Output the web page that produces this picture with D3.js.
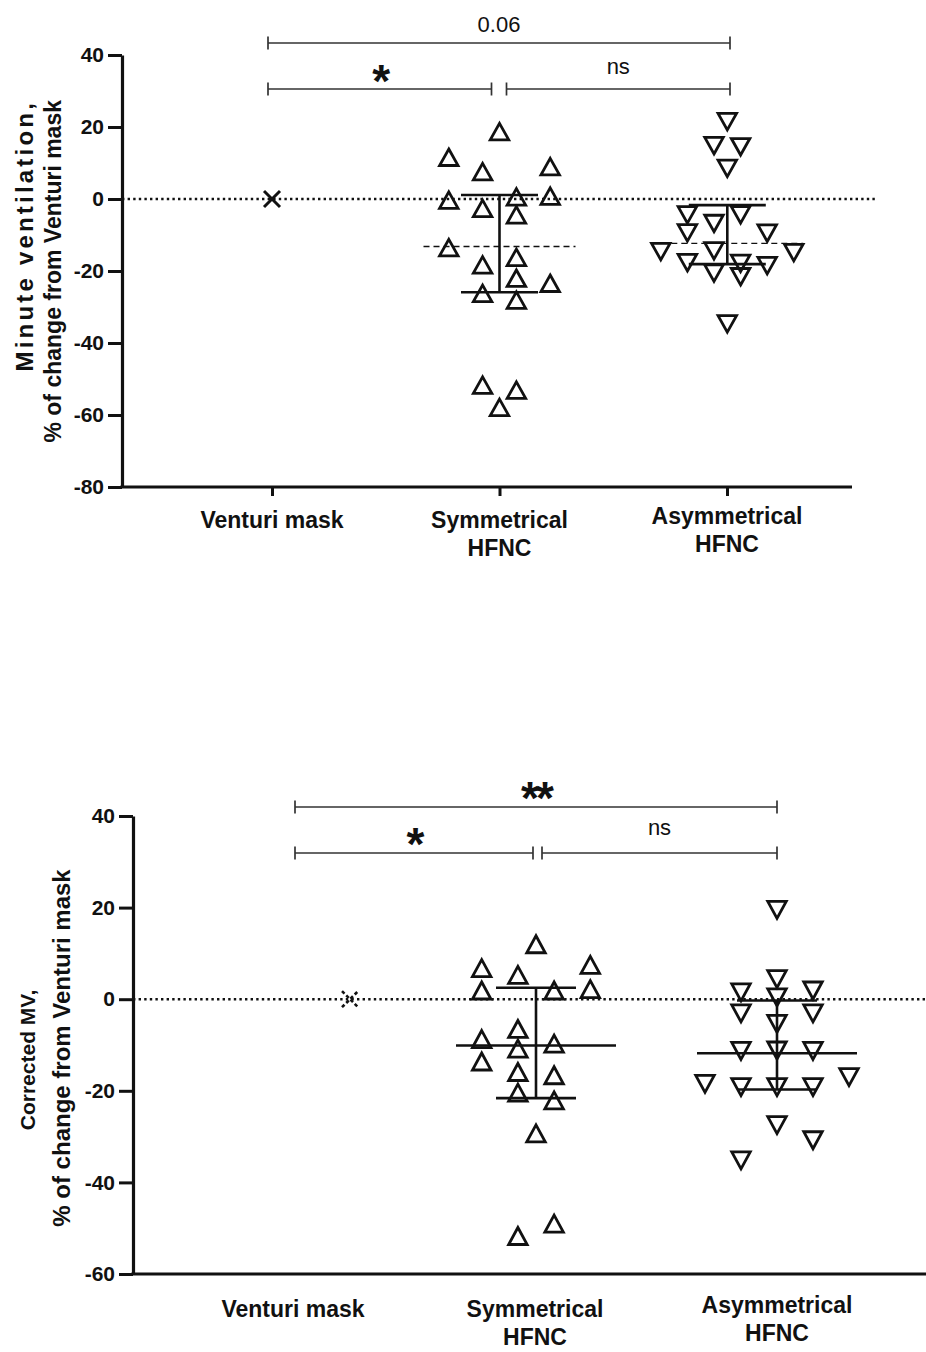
<!DOCTYPE html>
<html><head><meta charset="utf-8">
<script src="https://cdn.jsdelivr.net/npm/d3@7"></script>
<style>
body{margin:0;background:#fff}
svg{display:block}
text{font-family:"Liberation Sans",Arial,Helvetica,sans-serif;fill:#111}
</style>
</head><body>
<svg id="c" width="926" height="1352"></svg>
<script>
// ---------- DATA ----------
const categories = ["Venturi mask", "Symmetrical HFNC", "Asymmetrical HFNC"];
const categoryLines = [["Venturi mask"], ["Symmetrical", "HFNC"], ["Asymmetrical", "HFNC"]];

const yTicksTop = [40, 20, 0, -20, -40, -60, -80];
const yTicksBottom = [40, 20, 0, -20, -40, -60];

// Panel A: minute ventilation, % change from Venturi mask
const mvVenturi = [0];
const mvSym = [18.7, 11.6, 7.6, 9.0, -0.3, 0.6, 0.8, -2.6, -4.4, -13.5, -16.2, -18.3, -22.0, -23.4, -26.2, -28.1, -51.7, -53.1, -57.9];
const mvSymSlot = [0, -3, -1, 3, -3, 1, 3, -1, 1, -3, 1, -1, 1, 3, -1, 1, -1, 1, 0];
const mvAsym = [21.5, 14.8, 14.5, 8.5, -4.4, -6.8, -4.4, -9.4, -9.5, -14.6, -14.4, -14.9, -17.7, -17.9, -18.5, -20.6, -21.6, -34.7];
const mvAsymSlot = [0, -1, 1, 0, -3, -1, 1, -3, 3, -5, -1, 5, -3, 1, 3, -1, 1, 0];
const mvSymStats = {center: -13.2, upper: 1.1, lower: -25.9};
const mvAsymStats = {center: -12.3, upper: -1.7, lower: -18.1};
const mvBrackets = [
  {from: 0, to: 2, label: "0.06", level: 1},
  {from: 0, to: 1, label: "*", level: 0},
  {from: 1, to: 2, label: "ns", level: 0}
];
const mvTitle = ["Minute ventilation,", "% of change from Venturi mask"];

// Panel B: corrected MV, % change from Venturi mask
const cmvVenturi = [0];
const cmvSym = [12.0, 6.8, 5.3, 7.5, 1.9, 1.9, 2.2, -6.5, -8.7, -10.8, -9.7, -13.6, -15.9, -16.6, -20.4, -22.1, -29.3, -49.0, -51.7];
const cmvSymSlot = [0, -3, -1, 3, -3, 1, 3, -1, -3, -1, 1, -3, -1, 1, -1, 1, 0, 1, -1];
const cmvAsym = [19.5, 4.4, 1.5, 1.9, 0.4, -3.1, -3.1, -5.4, -11.3, -11.2, -11.3, -18.5, -19.2, -19.2, -19.2, -17.0, -27.5, -30.8, -35.2];
const cmvAsymSlot = [0, 0, -2, 2, 0, -2, 2, 0, -2, 0, 2, -4, -2, 0, 2, 4, 0, 2, -2];
const cmvSymStats = {center: -10.1, upper: 2.5, lower: -21.6};
const cmvAsymStats = {center: -11.8, upper: -0.3, lower: -19.7};
const cmvBrackets = [
  {from: 0, to: 2, label: "**", level: 1},
  {from: 0, to: 1, label: "*", level: 0},
  {from: 1, to: 2, label: "ns", level: 0}
];
const cmvTitle = ["Corrected MV,", "% of change from Venturi mask"];

// ---------- LAYOUT ----------
const svg = d3.select("#c");

function triPath(w, h, up) {
  const p = d3.path();
  if (up) { p.moveTo(0, -h/2); p.lineTo(w/2, h/2); p.lineTo(-w/2, h/2); }
  else { p.moveTo(0, h/2); p.lineTo(w/2, -h/2); p.lineTo(-w/2, -h/2); }
  p.closePath();
  return p.toString();
}

function panel(cfg) {
  const g = svg.append("g");
  const y = d3.scaleLinear().domain(cfg.yDomain).range(cfg.yRange);
  const x = d3.scalePoint().domain(categories).range(cfg.labelRange);
  const cx = i => x(categories[i]) + cfg.groupShift[i];

  // zero reference line
  g.append("line")
    .attr("x1", cfg.axisX).attr("x2", cfg.zeroEnd)
    .attr("y1", y(0)).attr("y2", y(0))
    .attr("stroke", "#111").attr("stroke-width", 2.4)
    .attr("stroke-dasharray", "2.4,3.2");

  // y axis
  const ya = d3.axisLeft(y).tickValues(cfg.yTicks).tickSize(cfg.tickLen).tickSizeOuter(0)
    .tickPadding(4).tickFormat(d => String(d));
  const yg = g.append("g").attr("transform", `translate(${cfg.axisX},0)`).call(ya);
  yg.select(".domain").attr("stroke", "#111").attr("stroke-width", 3.2);
  yg.selectAll(".tick line").attr("stroke", "#111").attr("stroke-width", 3);
  yg.selectAll(".tick text").attr("font-size", cfg.tickFont).attr("font-weight", "bold")
    .attr("fill", "#111").style("font-family", '"Liberation Sans",Arial,sans-serif');

  // x axis
  const xa = d3.axisBottom(x).tickSize(cfg.xTickLen).tickFormat("");
  const xg = g.append("g").attr("transform", `translate(0,${cfg.yRange[0]})`).call(xa);
  xg.select(".domain").remove();
  xg.selectAll(".tick line").attr("stroke", "#111").attr("stroke-width", 3)
    .attr("display", cfg.xTickLen > 0 ? null : "none");
  g.append("line").attr("x1", cfg.axisX - 1.6).attr("x2", cfg.xAxisEnd)
    .attr("y1", cfg.yRange[0]).attr("y2", cfg.yRange[0])
    .attr("stroke", "#111").attr("stroke-width", 3.2);

  // category labels
  categoryLines.forEach((lines, i) => {
    const t = g.append("text")
      .attr("x", x(categories[i]))
      .attr("y", cfg.labelY + cfg.labelDy[i])
      .attr("text-anchor", "middle")
      .attr("font-size", cfg.labelFont).attr("font-weight", "bold");
    lines.forEach((ln, k) => t.append("tspan").attr("x", x(categories[i])).attr("dy", k === 0 ? 0 : cfg.labelLH).text(ln));
  });

  // y title
  cfg.title.forEach((ln, k) => {
    g.append("text")
      .attr("transform", `translate(${cfg.titleX[k]},${cfg.titleY[k]}) rotate(-90)`)
      .attr("text-anchor", cfg.titleAnchor)
      .attr("font-size", cfg.titleFont[k]).attr("font-weight", "bold")
      .attr("letter-spacing", cfg.titleLS[k])
      .text(ln);
  });

  // Venturi marker (X)
  const vx = g.selectAll(".vx").data(cfg.venturi).enter().append("g")
    .attr("transform", d => `translate(${cx(0)},${y(d)})`);
  const s = cfg.xSize;
  [[-s, -s, s, s], [-s, s, s, -s]].forEach(c => {
    vx.append("line").attr("x1", c[0]).attr("y1", c[1]).attr("x2", c[2]).attr("y2", c[3])
      .attr("stroke", "#111").attr("stroke-width", cfg.xStroke)
      .attr("stroke-dasharray", cfg.xDash);
  });

  // summary bars
  [[1, cfg.symStats], [2, cfg.asymStats]].forEach(([i, st]) => {
    const c = cx(i);
    g.append("line").attr("x1", c).attr("x2", c).attr("y1", y(st.upper)).attr("y2", y(st.lower))
      .attr("stroke", "#111").attr("stroke-width", 2.6);
    [st.upper, st.lower].forEach(v => {
      g.append("line").attr("x1", c - cfg.capW/2).attr("x2", c + cfg.capW/2)
        .attr("y1", y(v)).attr("y2", y(v)).attr("stroke", "#111").attr("stroke-width", 2.6);
    });
    g.append("line").attr("x1", c - cfg.meanW/2).attr("x2", c + cfg.meanW/2)
      .attr("y1", y(st.center)).attr("y2", y(st.center))
      .attr("stroke", "#111").attr("stroke-width", cfg.meanStroke)
      .attr("stroke-dasharray", cfg.meanDash);
  });

  // points
  const pts = (vals, slots, i, step, up) => vals.map((v, k) => ({v, x: cx(i) + slots[k]*step, up}));
  const all = pts(cfg.sym, cfg.symSlot, 1, cfg.symStep, true)
    .concat(pts(cfg.asym, cfg.asymSlot, 2, cfg.asymStep, false));
  g.selectAll(".pt").data(all).enter().append("path")
    .attr("d", d => triPath(cfg.triW, cfg.triH, d.up))
    .attr("transform", d => `translate(${d.x},${y(d.v)})`)
    .attr("fill", "none").attr("stroke", "#111").attr("stroke-width", 2.8)
    .attr("stroke-linejoin", "miter");

  // significance brackets
  cfg.brackets.forEach(b => {
    const by = cfg.bracketY[b.level];
    let x1 = x(categories[b.from]) + cfg.bracketPad[0];
    let x2 = x(categories[b.to]) + cfg.bracketPad[1];
    if (b.level === 0 && b.from === 0) x2 = cx(1) + cfg.gapL;
    if (b.level === 0 && b.from === 1) x1 = cx(1) + cfg.gapR;
    const bg = g.append("g").attr("stroke", "#333").attr("stroke-width", 1.7);
    bg.append("line").attr("x1", x1).attr("x2", x2).attr("y1", by).attr("y2", by);
    [x1, x2].forEach(xx => bg.append("line").attr("x1", xx).attr("x2", xx).attr("y1", by - 6.5).attr("y2", by + 6.5));
    const isStar = b.label.indexOf("*") >= 0;
    const lx = (x1 + x2) / 2 + (b.level === 1 ? 0 : (b.from === 0 ? cfg.starDx : cfg.nsDx));
    const dy = isStar ? cfg.starDy : (b.level === 1 ? cfg.topTextDy : cfg.textDy);
    g.append("text")
      .attr("x", lx)
      .attr("y", by + dy)
      .attr("text-anchor", "middle")
      .attr("font-size", isStar ? cfg.starFont : cfg.textFont)
      .attr("font-weight", isStar ? "bold" : "normal")
      .attr("letter-spacing", isStar ? -3 : 0)
      .text(b.label);
  });
}

panel({
  yDomain: [-80, 40], yRange: [487, 55], yTicks: yTicksTop,
  axisX: 122, xAxisEnd: 852, zeroEnd: 876, tickLen: 14, tickFont: 21, xTickLen: 9,
  labelRange: [272, 727], groupShift: [0, 0, 0.3],
  labelY: 528, labelDy: [0, 0, -4], labelLH: 28, labelFont: 23,
  title: mvTitle, titleX: [33, 61], titleY: [100, 100], titleAnchor: "end",
  titleFont: [24, 23], titleLS: [3.2, 0],
  venturi: mvVenturi, xSize: 8, xStroke: 3, xDash: null,
  sym: mvSym, symSlot: mvSymSlot, symStep: 16.9,
  asym: mvAsym, asymSlot: mvAsymSlot, asymStep: 13.3,
  symStats: mvSymStats, asymStats: mvAsymStats,
  capW: 77, meanW: 152, meanStroke: 1.3, meanDash: "6,4",
  triW: 18.5, triH: 16.5,
  brackets: mvBrackets, bracketY: [89, 43], bracketPad: [-4, 3], gapL: -8, gapR: 7,
  starDx: 0, nsDx: 0, starDy: 8, textDy: -15, topTextDy: -11, starFont: 46, textFont: 22
});

panel({
  yDomain: [-60, 40], yRange: [1274, 816], yTicks: yTicksBottom,
  axisX: 133, xAxisEnd: 926, zeroEnd: 926, tickLen: 14, tickFont: 21, xTickLen: 0,
  labelRange: [293, 777], groupShift: [57, 1, 0],
  labelY: 1317, labelDy: [0, 0, -4], labelLH: 28, labelFont: 23,
  title: cmvTitle, titleX: [35, 70], titleY: [1060, 1048], titleAnchor: "middle",
  titleFont: [21, 24], titleLS: [0, 0],
  venturi: cmvVenturi, xSize: 8, xStroke: 2.6, xDash: "3.5,2.5",
  sym: cmvSym, symSlot: cmvSymSlot, symStep: 18.1,
  asym: cmvAsym, asymSlot: cmvAsymSlot, asymStep: 18,
  symStats: cmvSymStats, asymStats: cmvAsymStats,
  capW: 80, meanW: 160, meanStroke: 2.6, meanDash: null,
  triW: 18.5, triH: 17,
  brackets: cmvBrackets, bracketY: [853, 807], bracketPad: [2, 0], gapL: -3, gapR: 6,
  starDx: 0, nsDx: 0, starDy: 7, textDy: -18, topTextDy: -11, starFont: 46, textFont: 22
});
</script>
</body></html>
